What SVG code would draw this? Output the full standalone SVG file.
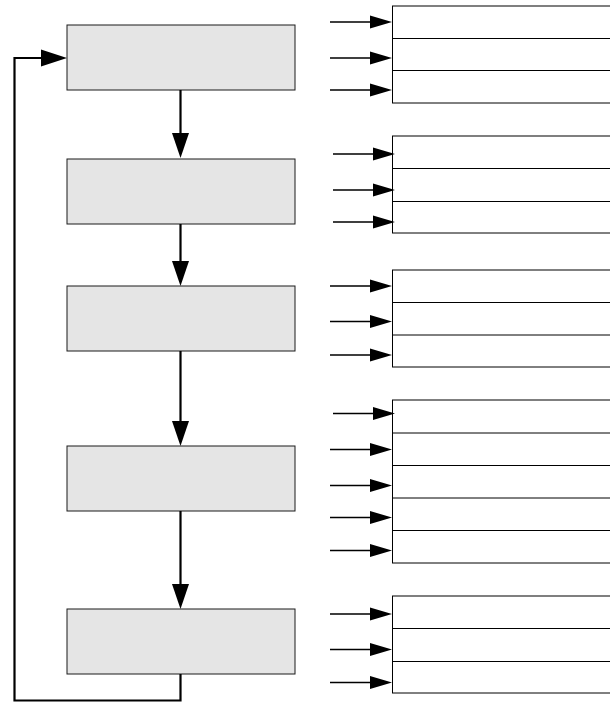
<svg xmlns="http://www.w3.org/2000/svg" width="610" height="702" viewBox="0 0 610 702">
<style>
.step{fill:#e5e5e5;stroke:#1a1a1a;stroke-width:1}
.tbl{fill:#fff;stroke:#000;stroke-width:1}
.row{stroke:#000;stroke-width:1}
.flow{fill:none;stroke:#000;stroke-width:2.2}
.in{fill:none;stroke:#000;stroke-width:1.5}
.head{fill:#000}
</style>
<rect width="610" height="702" fill="#fff"/>
<g id="step1"><rect class="step" x="67" y="25" width="228" height="65"/></g>
<g id="step2"><rect class="step" x="67" y="159" width="228" height="65"/></g>
<g id="step3"><rect class="step" x="67" y="286" width="228" height="65"/></g>
<g id="step4"><rect class="step" x="67" y="446" width="228" height="65"/></g>
<g id="step5"><rect class="step" x="67" y="609" width="228" height="65"/></g>
<g id="table1"><rect class="tbl" x="392.5" y="6" width="222" height="97"/><line class="row" x1="392.5" y1="38.5" x2="612" y2="38.5"/><line class="row" x1="392.5" y1="70.5" x2="612" y2="70.5"/></g>
<g id="table2"><rect class="tbl" x="392.5" y="136" width="222" height="97"/><line class="row" x1="392.5" y1="168.5" x2="612" y2="168.5"/><line class="row" x1="392.5" y1="201.5" x2="612" y2="201.5"/></g>
<g id="table3"><rect class="tbl" x="392.5" y="270" width="222" height="97"/><line class="row" x1="392.5" y1="302.5" x2="612" y2="302.5"/><line class="row" x1="392.5" y1="335" x2="612" y2="335"/></g>
<g id="table4"><rect class="tbl" x="392.5" y="400" width="222" height="163"/><line class="row" x1="392.5" y1="433" x2="612" y2="433"/><line class="row" x1="392.5" y1="465.5" x2="612" y2="465.5"/><line class="row" x1="392.5" y1="498" x2="612" y2="498"/><line class="row" x1="392.5" y1="530.5" x2="612" y2="530.5"/></g>
<g id="table5"><rect class="tbl" x="392.5" y="596" width="222" height="97"/><line class="row" x1="392.5" y1="628.5" x2="612" y2="628.5"/><line class="row" x1="392.5" y1="661.5" x2="612" y2="661.5"/></g>
<g id="connectors">
<path class="flow" d="M180.5 90V134"/><path class="head" d="M172 133H189L180.5 158Z"/>
<path class="flow" d="M180.5 224V262"/><path class="head" d="M172 261H189L180.5 286Z"/>
<path class="flow" d="M180.5 351V422"/><path class="head" d="M172 421H189L180.5 446Z"/>
<path class="flow" d="M180.5 511V585"/><path class="head" d="M172 584H189L180.5 609Z"/>
<path class="flow" d="M180.5 674V700.5H14.5V58H42"/><path class="head" d="M41 49.5V66.5L67 58Z"/>
<g id="inputs">
<path class="in" d="M330 22H371M330 58H371M330 90H371"/>
<path class="head" d="M370 15.5V28.5L392 22Z M370 51.5V64.5L392 58Z M370 83.5V96.5L392 90Z"/>
<path class="in" d="M333 154H374M333 190H374M333 222H374"/>
<path class="head" d="M373 147.5V160.5L395 154Z M373 183.5V196.5L395 190Z M373 215.5V228.5L395 222Z"/>
<path class="in" d="M330 286H371M330 321.5H371M330 355H371"/>
<path class="head" d="M370 279.5V292.5L392 286Z M370 315V328L392 321.5Z M370 348.5V361.5L392 355Z"/>
<path class="in" d="M333 413.5H374M330 449.5H371M330 485.5H371M330 517.5H371M330 550.5H371"/>
<path class="head" d="M373 407V420L395 413.5Z M370 443V456L392 449.5Z M370 479V492L392 485.5Z M370 511V524L392 517.5Z M370 544V557L392 550.5Z"/>
<path class="in" d="M330 614H371M330 649.5H371M330 682.5H371"/>
<path class="head" d="M370 607.5V620.5L392 614Z M370 643V656L392 649.5Z M370 676V689L392 682.5Z"/>
</g>
</g>
</svg>
